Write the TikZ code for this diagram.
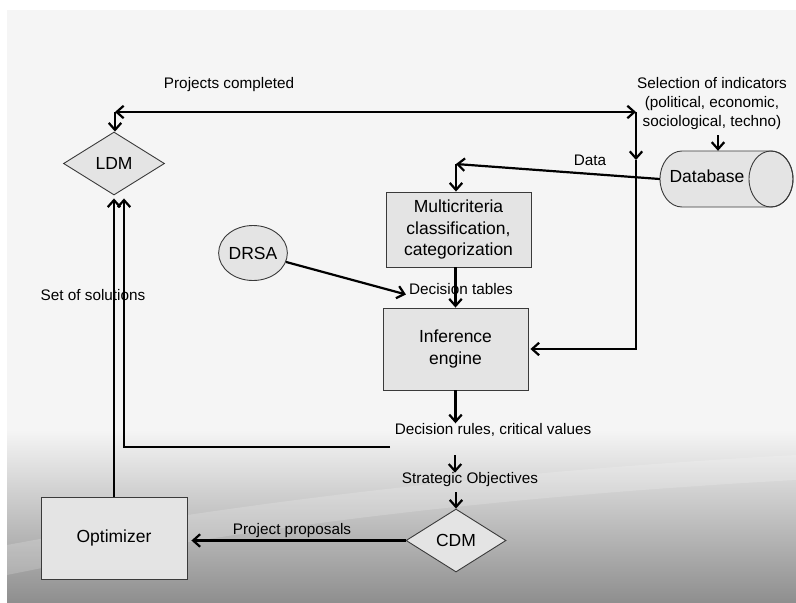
\documentclass[tikz,border=0pt]{standalone}
\usepackage{fontspec}
\setmainfont{Liberation Sans}
\usetikzlibrary{arrows.meta,shapes.geometric}
\definecolor{boxfill}{HTML}{E4E4E4}
\definecolor{boxline}{HTML}{3A3A3A}
\definecolor{bgtop}{HTML}{F5F5F5}
\definecolor{bgbot}{HTML}{8E8E8E}
\begin{document}
\begin{tikzpicture}[x=1pt,y=-1pt,
  tip/.tip={Straight Barb[length=7pt,width=12.5pt]},
  arr/.style={line width=2.2pt,-tip},
  dblarr/.style={line width=2.2pt,tip-tip},
  box/.style={draw=boxline,line width=0.9pt,fill=boxfill,rectangle,inner sep=0pt,align=center,font=\fontsize{17.5}{21.5}\selectfont},
  dia/.style={draw=boxline,line width=0.9pt,fill=boxfill,diamond,inner sep=0pt,font=\fontsize{17.5}{21}\selectfont},
  oval/.style={draw=boxline,line width=0.9pt,fill=boxfill,ellipse,inner sep=0pt,font=\fontsize{17.5}{21}\selectfont},
  boxtext/.style={inner sep=0pt,font=\fontsize{17.5}{21}\selectfont},
  lbl/.style={inner sep=0pt,align=center,font=\fontsize{15.3}{19}\selectfont}]
% background
\useasboundingbox (0,0) rectangle (796,603);
\fill[white] (0,0) rectangle (796,603);
\fill[bgtop] (7,10) rectangle (796,603);
\shade[top color=bgtop, bottom color=bgbot] (7,430) rectangle (796,603);
\fill[white,opacity=0.18] (7,545) .. controls (250,500) and (520,470) .. (796,455) -- (796,480) .. controls (520,495) and (250,525) .. (7,575) -- cycle;

% nodes
\node[dia,minimum width=101pt,minimum height=63pt] (ldm) at (114,163.5) {LDM};
\node[dia,minimum width=100pt,minimum height=63pt] (cdm) at (456,540.5) {CDM};
\node[box,minimum width=145pt,minimum height=75pt] (multi) at (458.5,229.5) {Multicriteria\\classification,\\categorization};
\node[box,minimum width=145pt,minimum height=82pt] (infer) at (455.5,349) {Inference\\engine};
\node[box,minimum width=146pt,minimum height=82pt] (opt) at (114,538) {Optimizer};
\node[oval,minimum width=64pt,minimum height=55pt] (drsa) at (253,253) {DRSA};

% database cylinder
\node[minimum width=133pt,minimum height=56pt,inner sep=0pt] (dbshape) at (726.5,179) {};
\filldraw[draw=boxline,line width=0.9pt,fill=boxfill] (682,151) -- (771,151)
  arc[start angle=90,end angle=-90,x radius=22pt,y radius=28pt] -- (682,207)
  arc[start angle=270,end angle=90,x radius=22pt,y radius=28pt] -- cycle;
\draw[boxline,line width=0.9pt] (771,179) ellipse[x radius=22pt,y radius=28pt];
\node[boxtext] (db) at (707,176) {Database};

% labels
\node[lbl] (pc) at (229,85) {Projects completed};
\node[lbl] (sel) at (712,104) {Selection of indicators\\(political, economic,\\sociological, techno)};
\node[lbl] (data) at (590,160) {Data};
\node[lbl] (dtab) at (461,289) {Decision tables};
\node[lbl] (sos) at (93,295) {Set of solutions};
\node[lbl] (drules) at (493,430) {Decision rules, critical values};
\node[lbl] (strat) at (470,480) {Strategic Objectives};
\node[lbl] (pp) at (292,531) {Project proposals};

% coordinates
\coordinate (tl) at (115,112);
\coordinate (tr) at (636,112);
\coordinate (vm) at (636,160);
\coordinate (br) at (636,349);
\coordinate (dk) at (456,164);
\coordinate (rt) at (390,447);
\coordinate (rl) at (124,447);
\coordinate (s1) at (455,455);
\coordinate (ldmb) at ([yshift=-3pt]ldm.south);
\coordinate (selb) at ([xshift=6pt,yshift=-5pt]sel.south);

% connectors
\draw[dblarr] (tl) -- (tr);
\draw[arr] (tl) -- (tl |- ldm.north);
\draw[arr] (tr) -- (vm);
\draw[arr] (vm) -- (br) -- ([xshift=2pt]infer.east |- br);
\draw[arr] (selb) -- (selb |- dbshape.north);
\draw[arr] (dbshape.west) -- (dk);
\draw[arr] (dk) -- (dk |- multi.north);
\draw[arr] (multi.south -| infer.north) -- (infer.north);
\draw[arr] (drsa) -- ([xshift=-3pt]dtab.base west);
\draw[arr] (infer.south) -- (infer.south |- drules.north);
\draw[arr] (s1) -- (s1 |- strat.north);
\draw[arr] ([yshift=-5pt]strat.south -| cdm.north) -- (cdm.north);
\draw[arr] (cdm.west) -- ([xshift=4pt]opt.east |- cdm.west);
\draw[arr] (opt.north) -- (ldmb);
\draw[arr] (rt) -- (rl) -- (rl |- ldmb);
\end{tikzpicture}
\end{document}
